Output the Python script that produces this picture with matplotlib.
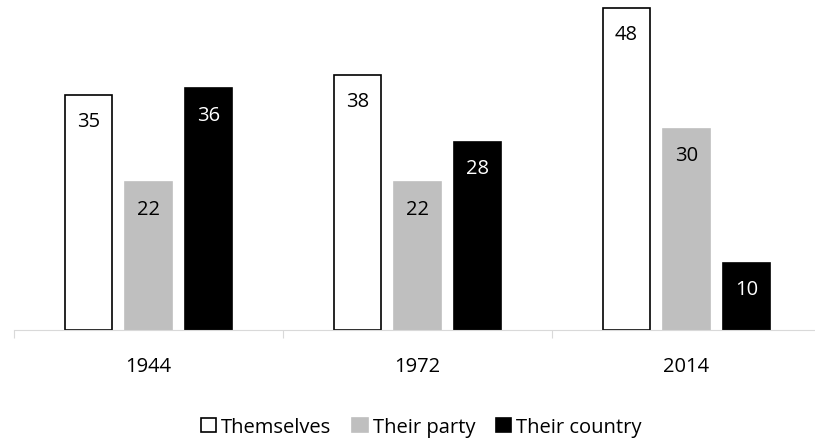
import matplotlib.pyplot as plt
import numpy as np

plt.rcParams['font.family'] = ['Open Sans', 'DejaVu Sans']

years = ["1944", "1972", "2014"]
series = ["Themselves", "Their party", "Their country"]
themselves = [35, 38, 48]
party = [22, 22, 30]
country = [36, 28, 10]

fig = plt.figure(figsize=(8.15, 4.39), dpi=100)
ax = fig.add_axes([14 / 815, (439 - 331) / 439, 807 / 815, 331 / 439])

x = np.arange(len(years))
w = 0.175
off = 0.223
styles = [
    (themselves, "white", "black", "black"),
    (party, "#bfbfbf", "#bfbfbf", "black"),
    (country, "black", "black", "white"),
]
for i, (vals, fc, ec, tc) in enumerate(styles):
    pos = x + (i - 1) * off
    ax.bar(pos, vals, w, color=fc, edgecolor=ec, linewidth=1.2, label=series[i])
    for px, v in zip(pos, vals):
        ax.annotate(str(v), (px, v), xytext=(0, -19), textcoords="offset points",
                    ha="center", va="center", fontsize=14.5, color=tc)

ax.set_xlim(-0.5, 2.5)
ax.set_ylim(0, 49.3)
for s in ["top", "right", "left"]:
    ax.spines[s].set_visible(False)
ax.spines["bottom"].set_color("#d9d9d9")
ax.set_yticks([])
ax.set_xticks([-0.5, 0.5, 1.5, 2.5])
ax.set_xticklabels([])
ax.tick_params(axis="x", length=6, color="#d9d9d9")
ax.set_xticks(x, minor=True)
ax.set_xticklabels(years, minor=True, fontsize=14.5)
ax.tick_params(axis="x", which="minor", length=0, pad=19)

fig.legend(loc="center", bbox_to_anchor=(0.517, 11 / 439), ncol=3, frameon=False,
           fontsize=14.5, handlelength=0.75, handleheight=0.75, handletextpad=0.25,
           columnspacing=1.05)

fig.savefig("out.png", dpi=100)
